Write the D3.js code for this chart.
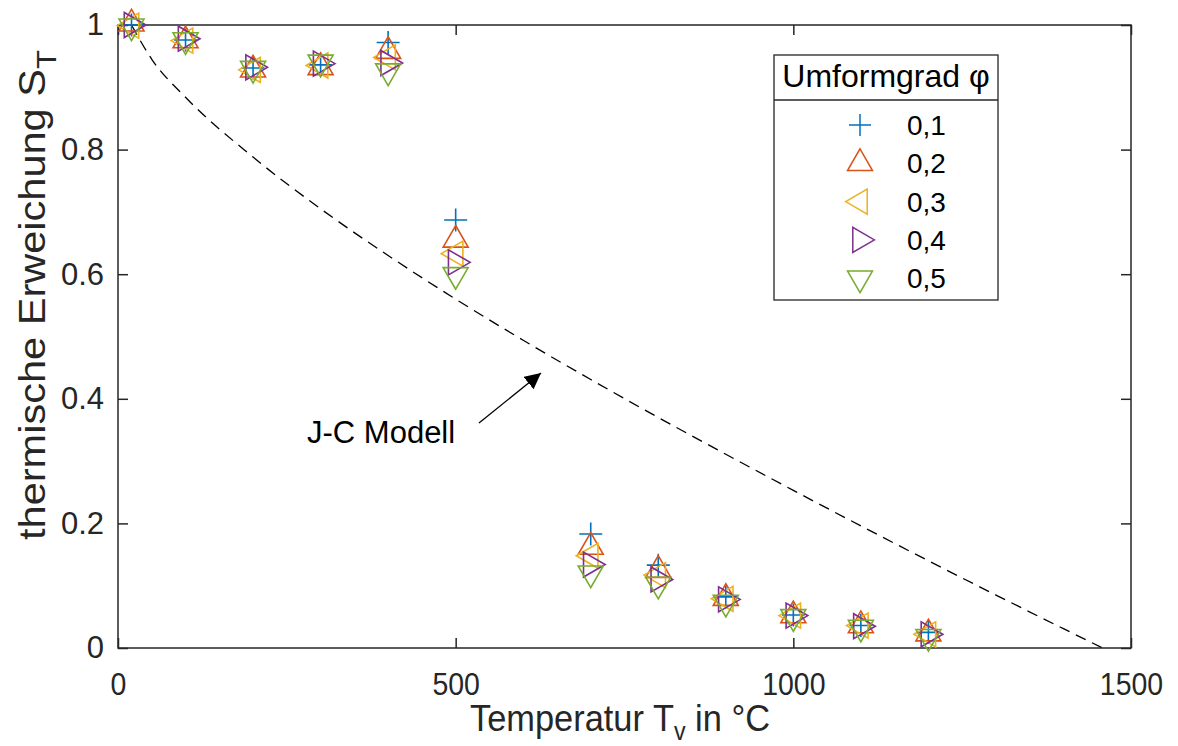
<!DOCTYPE html>
<html><head><meta charset="utf-8">
<script src="https://cdn.jsdelivr.net/npm/d3@7"></script>
<style>body{margin:0;background:#fff}svg{display:block}text{font-family:"Liberation Sans",Arial,sans-serif;fill:#262626}</style>
</head><body><svg id="c" width="1178" height="746"></svg>
<script>
const temps = [20, 100, 200, 300, 400, 500, 700, 800, 900, 1000, 1100, 1200];
const phiLabels = ["0,1", "0,2", "0,3", "0,4", "0,5"];
const s01 = [1.000, 0.976, 0.931, 0.936, 0.972, 0.687, 0.183, 0.133, 0.082, 0.053, 0.036, 0.025];
const s02 = [1.002, 0.975, 0.928, 0.932, 0.958, 0.655, 0.162, 0.125, 0.080, 0.052, 0.036, 0.023];
const s03 = [0.999, 0.975, 0.928, 0.935, 0.948, 0.633, 0.148, 0.117, 0.079, 0.052, 0.036, 0.022];
const s04 = [1.000, 0.978, 0.932, 0.938, 0.939, 0.619, 0.134, 0.110, 0.078, 0.052, 0.035, 0.022];
const s05 = [0.998, 0.976, 0.930, 0.940, 0.926, 0.599, 0.120, 0.102, 0.073, 0.050, 0.033, 0.018];
const series = [s01, s02, s03, s04, s05];
const jcT = [20, 50, 100, 200, 300, 400, 500, 600, 700, 800, 900, 1000, 1100, 1200, 1300, 1400, 1458];
const jcS = [1.000, 0.945, 0.884, 0.788, 0.705, 0.630, 0.560, 0.494, 0.431, 0.370, 0.311, 0.253, 0.196, 0.140, 0.085, 0.031, 0.000];
const xTicks = [0, 500, 1000, 1500];
const yTicks = [0, 0.2, 0.4, 0.6, 0.8, 1];
const colors = ["#0072BD", "#D95319", "#EDB120", "#7E2F8E", "#77AC30"];
const markers = ["plus", "up", "left", "right", "down"];

const svg = d3.select("#c");
const L = 118, R = 1131, T = 25, B = 648;
const x = d3.scaleLinear().domain([0, 1500]).range([L, R]);
const y = d3.scaleLinear().domain([0, 1]).range([B, T]);
const axC = "#262626";

function markerPath(type, s) {
  if (type === "plus") {
    const h = s / 2;
    return `M${-h},0L${h},0M0,${-h}L0,${h}`;
  }
  return d3.symbol().type(d3.symbolTriangle).size(Math.sqrt(3) / 4 * s * s)();
}
const rot = {up: 0, right: 90, down: 180, left: 270, plus: 0};

// J-C model dashed line
svg.append("path")
  .datum(jcT.map((t, i) => [t, jcS[i]]))
  .attr("d", d3.line().x(d => x(d[0])).y(d => y(d[1])).curve(d3.curveMonotoneX))
  .attr("fill", "none").attr("stroke", "#000").attr("stroke-width", 1.3)
  .attr("stroke-dasharray", "11,7");

// axes with inward ticks on all four sides
const gx = svg.append("g").attr("transform", `translate(0,${B})`)
  .call(d3.axisBottom(x).tickValues(xTicks).tickSize(-10).tickFormat(d3.format("d")));
const gxt = svg.append("g").attr("transform", `translate(0,${T})`)
  .call(d3.axisTop(x).tickValues(xTicks).tickSize(-10).tickFormat(""));
const gy = svg.append("g").attr("transform", `translate(${L},0)`)
  .call(d3.axisLeft(y).tickValues(yTicks).tickSize(-10).tickPadding(14)
    .tickFormat(d => d === 0 || d === 1 ? d3.format("d")(d) : d3.format(".1f")(d)));
const gyr = svg.append("g").attr("transform", `translate(${R},0)`)
  .call(d3.axisRight(y).tickValues(yTicks).tickSize(-10).tickFormat(""));
[gx, gxt, gy, gyr].forEach(g => {
  g.select(".domain").remove();
  g.selectAll(".tick line").attr("stroke", axC).attr("stroke-width", 1.5);
  g.selectAll(".tick text").attr("fill", axC);
});
gy.selectAll(".tick text").style("font-size", "31px");
gx.selectAll(".tick text").style("font-size", "32px")
  .attr("y", 47).attr("dy", 0)
  .attr("textLength", d => String(d).length * 0.556 * 32 * 0.89)
  .attr("lengthAdjust", "spacingAndGlyphs");
svg.append("rect").attr("x", L).attr("y", T).attr("width", R - L).attr("height", B - T)
  .attr("fill", "none").attr("stroke", axC).attr("stroke-width", 1.5);

// data markers
series.forEach((vals, si) => {
  svg.append("g").selectAll("path").data(temps.map((t, i) => [t, vals[i]])).join("path")
    .attr("d", markerPath(markers[si], markers[si] === "plus" ? 23 : 25))
    .attr("transform", d => `translate(${x(d[0])},${y(d[1])}) rotate(${rot[markers[si]]})`)
    .attr("fill", "none").attr("stroke", colors[si]).attr("stroke-width", 1.6);
});

// annotation
svg.append("defs").append("marker").attr("id", "ah").attr("viewBox", "0 0 10 10")
  .attr("refX", 10).attr("refY", 5).attr("markerWidth", 16).attr("markerHeight", 16)
  .attr("markerUnits", "userSpaceOnUse").attr("orient", "auto")
  .append("path").attr("d", "M0,0L10,5L0,10Z").attr("fill", "#000");
svg.append("line").attr("x1", 479).attr("y1", 423).attr("x2", 541).attr("y2", 373)
  .attr("stroke", "#000").attr("stroke-width", 1.3).attr("marker-end", "url(#ah)");
svg.append("text").attr("x", 307).attr("y", 443).style("font-size", "31px").style("fill", "#000").text("J-C Modell");

// axis labels
const xl = svg.append("text").attr("x", 470).attr("y", 731).style("font-size", "37px")
  .attr("textLength", 300).attr("lengthAdjust", "spacingAndGlyphs");
xl.append("tspan").text("Temperatur T");
xl.append("tspan").attr("dy", 9).style("font-size", "25px").text("v");
xl.append("tspan").attr("dy", -9).text(" in °C");

const yl = svg.append("text").attr("transform", "translate(45,540) rotate(-90)").style("font-size", "36px")
  .attr("textLength", 490).attr("lengthAdjust", "spacingAndGlyphs");
yl.append("tspan").text("thermische Erweichung S");
yl.append("tspan").attr("dy", 11).style("font-size", "27px").text("T");

// legend
const lg = svg.append("g");
const lx = 774, ly = 55, lw = 224, lh = 245;
lg.append("rect").attr("x", lx).attr("y", ly).attr("width", lw).attr("height", lh)
  .attr("fill", "#fff").attr("stroke", axC).attr("stroke-width", 1.3);
lg.append("line").attr("x1", lx).attr("x2", lx + lw).attr("y1", 100).attr("y2", 100)
  .attr("stroke", axC).attr("stroke-width", 1.3);
lg.append("text").attr("x", lx + lw / 2).attr("y", 87).attr("text-anchor", "middle")
  .style("font-size", "32px").style("fill", "#000").text("Umformgrad φ");
phiLabels.forEach((lab, i) => {
  const cy = 125 + i * 38.3;
  lg.append("path").attr("d", markerPath(markers[i], markers[i] === "plus" ? 22 : 25))
    .attr("transform", `translate(860,${cy}) rotate(${rot[markers[i]]})`)
    .attr("fill", "none").attr("stroke", colors[i]).attr("stroke-width", 1.5);
  lg.append("text").attr("x", 907).attr("y", cy + 10).style("font-size", "28px").style("fill", "#000").text(lab);
});
</script></body></html>
